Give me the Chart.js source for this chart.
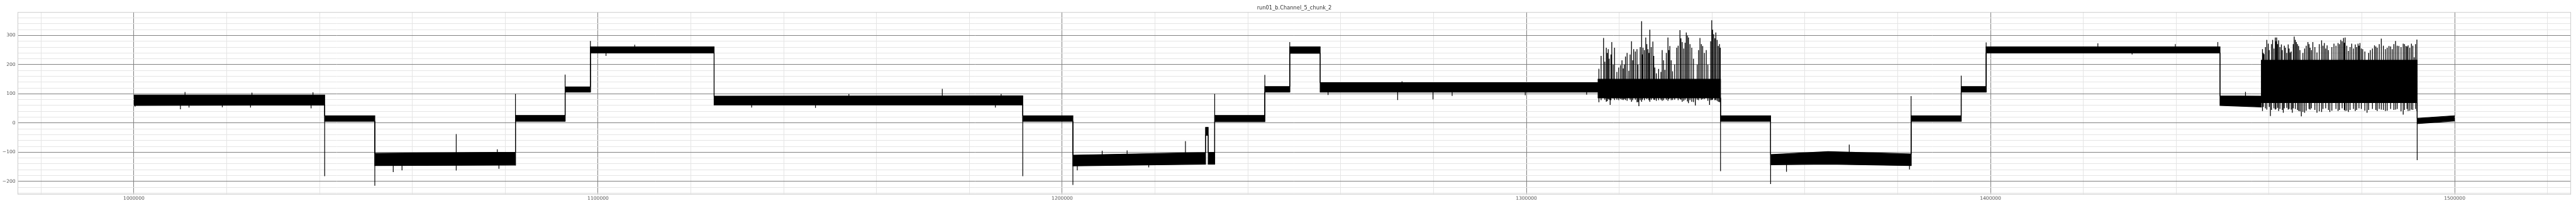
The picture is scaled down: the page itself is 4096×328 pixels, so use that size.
<!DOCTYPE html>
<html>
<head>
<meta charset="utf-8">
<title>run01_b.Channel_5_chunk_2</title>
<script src="https://cdn.jsdelivr.net/npm/chart.js@4.4.1/dist/chart.umd.min.js"></script>
<style>
  html, body { margin: 0; padding: 0; background: #fff; }
  #wrap { width: 4096px; height: 328px; position: relative; }
</style>
</head>
<body>
<div id="wrap"><canvas id="chart"></canvas></div>
<script>
// level bands: x of each breakpoint, top and bottom of the noise band
const levelX = [1000000, 1041100, 1041100, 1051900, 1051900, 1082200, 1082200, 1092900,
    1092900, 1098350, 1098350, 1125000, 1125000, 1191500, 1191500, 1202300,
    1202300, 1230880, 1230880, 1231450, 1231450, 1232850, 1232850, 1243650,
    1243650, 1249020, 1249020, 1255570, 1255570, 1315450, 1315450, 1341830,
    1341830, 1352620, 1352620, 1365000, 1382890, 1382890, 1393690, 1393690,
    1399060, 1399060, 1449440, 1449440, 1458350, 1458350, 1491920, 1491920, 1500000];
const levelHi = [96, 96, 25, 25, -104, -100, 26, 26,
    124, 124, 261, 261, 92, 93, 25, 25,
    -110, -101, -15, -15, -101, -100, 26, 26,
    125, 125, 261, 261, 138, 138, 150, 150,
    25, 25, -108, -98, -106, 25, 25, 125,
    125, 261, 261, 93, 92, 215, 215, 16, 25];
const levelLo = [60, 62, 6, 6, -146, -144, 6, 6,
    106, 106, 240, 240, 62, 62, 6, 6,
    -147, -141, -42, -42, -141, -141, 5, 5,
    106, 106, 239, 239, 106, 106, 86, 86,
    6, 6, -143, -141, -146, 6, 6, 106,
    106, 240, 240, 60, 55, 70, 70, -2, 7];

// single strokes: step overshoots and outliers
const spikeX = [1041100, 1051900, 1082200, 1092900, 1098350, 1191500, 1202300, 1232850,
    1243650, 1249020, 1341830, 1352620, 1382890, 1393690, 1399060, 1448970, 1491920,
    1000260, 1010020, 1011010, 1011870, 1019040, 1025120, 1025430, 1038170, 1038580,
    1055870, 1057760, 1069440, 1078290, 1078640, 1101710, 1107900,
    1133090, 1146840, 1154040, 1174160, 1185600, 1186840,
    1203250, 1208610, 1213980, 1218640, 1226550,
    1257280, 1272270, 1273210, 1279880, 1284010, 1299760, 1312980,
    1356040, 1369560, 1382540, 1423130, 1430500, 1439820, 1454930];
const spikeHi = [62, 6, 100, 166, 281, 62, 6, 100,
    165, 277, 86, 6, 92, 162, 276, 277, 70,
    80, 80, 106, 80, 80, 80, 104, 80, 105,
    -125, -125, -38, -90, -125, 250, 268,
    75, 75, 99, 117, 75, 100,
    -125, -95, -94, -125, -62,
    120, 120, 143, 120, 120, 120, 120,
    -125, -74, -125, 273, 250, 270, 107];
const spikeLo = [-182, -215, -145, 6, 106, -182, -212, -141,
    5, 106, -165, -209, -146, 6, 106, 240, -127,
    56, 47, 80, 53, 54, 53, 80, 50, 80,
    -168, -162, -163, -125, -157, 230, 250,
    53, 52, 75, 75, 53, 75,
    -162, -125, -125, -152, -125,
    96, 79, 120, 81, 93, 95, 97,
    -167, -125, -159, 250, 235, 250, 80];

// the two bursty stretches, one stroke each (first stretch ~1.316M-1.342M, second ~1.458M-1.492M)
const noiseX = [1315630, 1316630, 1317220, 1317640, 1318050, 1318400, 1318990, 1320290,
    1320880, 1321350, 1322060, 1322650, 1323120, 1323830, 1324240, 1324830, 1325130,
    1325720, 1326190, 1326600, 1327250, 1327670, 1329260, 1329850, 1330500, 1330910,
    1331500, 1332390, 1333090, 1333570, 1334450, 1334920, 1335630, 1336400, 1337400,
    1337990, 1338760, 1339470, 1339940, 1340350, 1340820, 1341350, 1341770,
    1316100, 1316900, 1317420, 1317850, 1318220, 1318700, 1319500, 1319900, 1320600,
    1321100, 1321700, 1322350, 1322900, 1323480, 1324050, 1324530, 1324980, 1325420,
    1325950, 1326400, 1326900, 1327450, 1328000, 1328500, 1329000, 1329550, 1330150,
    1330700, 1331200, 1331950, 1332700, 1333300, 1333900, 1334200, 1334700, 1335250,
    1336000, 1336800, 1337100, 1337700, 1338350, 1339100, 1339700, 1340120, 1340600,
    1341100, 1341600,
    1458590, 1458940, 1459530, 1459830, 1460300, 1460770, 1461360, 1461650, 1462070,
    1462660, 1463070, 1463540, 1464130, 1464550, 1465020, 1465430, 1465900, 1466370,
    1466960, 1467670, 1468380, 1468850, 1469440, 1470330, 1471330, 1471920, 1472510,
    1473100, 1473990, 1474870, 1475460, 1476050, 1476400, 1477110, 1477820, 1478590,
    1479180, 1479590, 1480180, 1481120, 1481830, 1482720, 1483310, 1484190, 1485080,
    1485840, 1486550, 1487260, 1487970, 1488910, 1489500, 1489970, 1490680, 1491270, 1491860,
    1458760, 1459230, 1460050, 1460530, 1461060, 1461500, 1461850, 1462360, 1462860,
    1463300, 1463830, 1464340, 1464780, 1465220, 1465660, 1466140, 1466660, 1467300,
    1468020, 1468620, 1469140, 1469880, 1470830, 1471620, 1472210, 1472800, 1473540,
    1474430, 1475160, 1475750, 1476220, 1476750, 1477460, 1478200, 1478880, 1479380,
    1479880, 1480650, 1481470, 1482280, 1483010, 1483750, 1484630, 1485460, 1486200,
    1486900, 1487610, 1488440, 1489200, 1489740, 1490320, 1490980, 1491560];
const noiseHi = [186, 291, 258, 253, 150, 277, 258, 198,
    187, 228, 179, 280, 253, 253, 150, 349, 258,
    293, 253, 320, 279, 190, 250, 182, 293, 264,
    177, 258, 318, 277, 310, 293, 258, 150, 291,
    264, 250, 150, 352, 304, 310, 264, 258,
    230, 210, 240, 220, 235, 200, 175, 190, 215,
    200, 240, 235, 215, 245, 200, 260, 235, 250,
    270, 240, 260, 230, 170, 185, 175, 215, 240,
    250, 215, 200, 265, 290, 255, 275, 300, 270,
    220, 200, 250, 270, 240, 200, 280, 320, 290,
    285, 270,
    253, 236, 285, 272, 215, 285, 293, 293, 283,
    269, 215, 258, 269, 242, 215, 296, 277, 264,
    215, 255, 277, 258, 277, 242, 283, 274, 266,
    215, 272, 274, 285, 291, 293, 247, 272, 269,
    272, 274, 253, 215, 250, 266, 258, 289, 253,
    264, 253, 281, 264, 272, 264, 266, 272, 225, 286,
    240, 260, 250, 270, 255, 280, 270, 260, 250,
    265, 240, 255, 245, 270, 285, 270, 250, 240,
    265, 270, 250, 260, 270, 265, 255, 250, 260,
    265, 270, 280, 275, 265, 260, 255, 260, 265,
    255, 245, 240, 255, 262, 270, 265, 258, 262,
    270, 265, 260, 270, 262, 258, 265, 270];
const noiseLo = [71, 95, 73, 82, 62, 87, 79, 82,
    79, 79, 86, 73, 95, 71, 58, 73, 86,
    86, 86, 73, 86, 79, 76, 86, 76, 86,
    79, 86, 82, 73, 86, 68, 73, 60, 86,
    82, 86, 62, 79, 86, 79, 73, 71,
    78, 80, 75, 80, 78, 84, 80, 78, 80,
    82, 76, 80, 78, 80, 72, 78, 80, 78,
    82, 78, 80, 80, 76, 78, 80, 78, 80,
    82, 78, 80, 78, 80, 76, 80, 74, 78,
    72, 80, 78, 80, 82, 76, 78, 80, 78,
    76, 72,
    41, 70, 46, 70, 24, 70, 46, 70, 41,
    70, 35, 70, 46, 70, 35, 70, 70, 41,
    23, 35, 70, 46, 70, 35, 38, 70, 70,
    38, 70, 41, 70, 70, 41, 38, 70, 41,
    70, 70, 70, 35, 70, 70, 41, 46, 41,
    70, 70, 46, 70, 29, 70, 41, 46, 70, 41,
    55, 50, 55, 45, 50, 48, 52, 48, 45,
    50, 52, 48, 46, 50, 48, 45, 40, 38,
    42, 48, 50, 45, 40, 48, 50, 45, 42,
    48, 45, 50, 45, 42, 45, 48, 45, 50,
    48, 42, 45, 48, 45, 48, 45, 42, 48,
    45, 48, 40, 45, 48, 42, 45, 48];

const yTicks = [];
for (let v = -240; v <= 360; v += 20) yTicks.push(v);
const xTicks = [];
for (let v = 980000; v <= 1520000; v += 20000) xTicks.push(v);

const TITLE = 'run01_b.Channel_5_chunk_2';
const S = 0.758;

function strokes(xs, hi, lo) {
    const out = [];
    xs.forEach((x, i) => {
        out.push({ x: x, y: hi[i] }, { x: x, y: lo[i] }, { x: x, y: null });
    });
    return out;
}

const lineBase = { borderColor: '#000', pointRadius: 0, tension: 0, spanGaps: false };

const framePlugin = {
    id: 'frame',
    afterDatasetsDraw(chart) {
        const a = chart.chartArea, ctx = chart.ctx;
        ctx.save();
        ctx.strokeStyle = '#cccccc';
        ctx.lineWidth = 1;
        ctx.strokeRect(a.left, a.top, a.right - a.left, a.bottom - a.top);
        ctx.fillStyle = '#333';
        ctx.font = (11 * S).toFixed(1) + 'px "DejaVu Sans"';
        ctx.textAlign = 'center';
        ctx.textBaseline = 'middle';
        ctx.fillText(TITLE, (a.left + a.right) / 2, 16.7 * S);
        ctx.restore();
    }
};

const gridColor = ctx => (ctx.tick && ctx.tick.value % (ctx.scale.axis === 'x' ? 100000 : 100) === 0) ? '#808080' : '#e5e5e5';

new Chart(document.getElementById('chart'), {
    type: 'line',
    data: {
        datasets: [
            Object.assign({ data: levelX.map((x, i) => ({ x: x, y: levelHi[i] })), borderWidth: 1.2, fill: false }, lineBase),
            Object.assign({ data: levelX.map((x, i) => ({ x: x, y: levelLo[i] })), borderWidth: 1.2, fill: '-1', backgroundColor: '#000' }, lineBase),
            Object.assign({ data: strokes(spikeX, spikeHi, spikeLo), borderWidth: 1.2, fill: false }, lineBase),
            Object.assign({ data: strokes(noiseX, noiseHi, noiseLo), borderWidth: 1.3, fill: false }, lineBase)
        ]
    },
    options: {
        responsive: true,
        maintainAspectRatio: false,
        animation: false,
        events: [],
        layout: { padding: { left: 0, right: 8.4, top: 26 * S, bottom: 0 } },
        plugins: { legend: { display: false }, tooltip: { enabled: false }, title: { display: false } },
        scales: {
            x: {
                type: 'linear', min: 975000, max: 1525000,
                afterBuildTicks: s => { s.ticks = xTicks.map(v => ({ value: v })); },
                afterFit: s => { s.height = 328 - 408 * S; },
                grid: { color: gridColor, lineWidth: 1, drawTicks: false },
                border: { display: false },
                ticks: {
                    autoSkip: false, maxRotation: 0, padding: 2.5, color: '#555',
                    font: { family: 'DejaVu Sans', size: 10 * S },
                    callback: v => v % 100000 === 0 ? String(v) : ''
                }
            },
            y: {
                type: 'linear', min: -244, max: 379,
                afterBuildTicks: s => { s.ticks = yTicks.map(v => ({ value: v })); },
                afterFit: s => { s.width = 37.5 * S; },
                grid: { color: gridColor, lineWidth: 1, drawTicks: false },
                border: { display: false },
                ticks: {
                    autoSkip: false, padding: 3.8, color: '#555',
                    font: { family: 'DejaVu Sans', size: 10 * S },
                    callback: v => v % 100 === 0 ? (v < 0 ? '\u2212' + Math.abs(v) : String(v)) : ''
                }
            }
        }
    },
    plugins: [framePlugin]
});
</script>
</body>
</html>
